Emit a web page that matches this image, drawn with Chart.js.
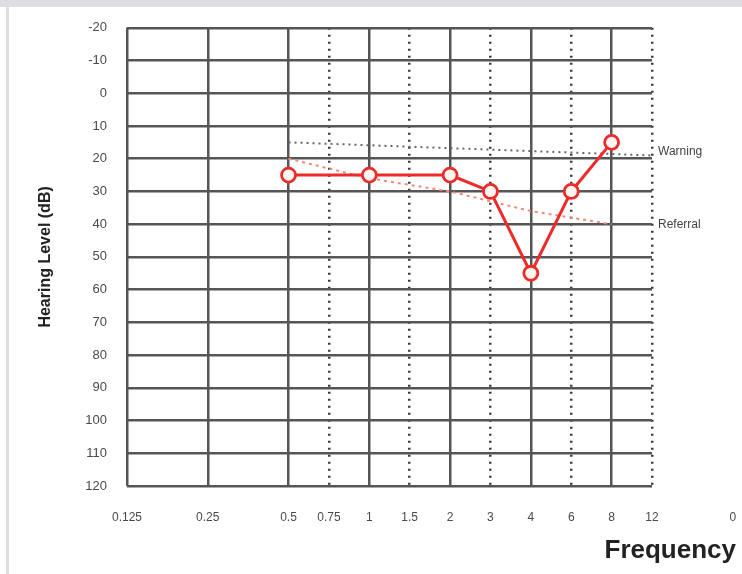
<!DOCTYPE html>
<html>
<head>
<meta charset="utf-8">
<script src="https://cdn.jsdelivr.net/npm/chart.js@4/dist/chart.umd.min.js"></script>
<style>
  body { margin: 0; background: #fff; }
  #frame {
    position: absolute; left: 0; top: 0; width: 742px; height: 574px;
    box-sizing: border-box; border-top: 7px solid #dedde3;
  }
  #frame:before {
    content: ""; position: absolute; left: 6px; top: 0; width: 3px; height: 567px; background: #dedde3;
  }
  #wrap { position: absolute; left: 0; top: 0; width: 742px; height: 574px; }
</style>
</head>
<body>
<div id="frame"></div>
<div id="wrap"><canvas id="graph" width="742" height="574"></canvas></div>
<script>
// frequency tick labels (kHz) and their slot on the chart (half-octave slots)
const freqLabels = ["0.125", "0.25", "0.5", "0.75", "1", "1.5", "2", "3", "4", "6", "8", "12"];
const freqSlots = [0, 2, 4, 5, 6, 7, 8, 9, 10, 11, 12, 13];
const dottedSlots = [5, 7, 9, 11, 13];
const extraLabel = "0"; // stray label past the right edge
const extraSlot = 15;

const levelTicks = [-20, -10, 0, 10, 20, 30, 40, 50, 60, 70, 80, 90, 100, 110, 120];

// measured thresholds
const hearingFreqs = [0.5, 1, 2, 3, 4, 6, 8];
const hearingLevels = [25, 25, 25, 30, 55, 30, 15];

// guide lines
const warningFreqs = [0.5, 12];
const warningLevels = [15, 19];
const referralFreqs = [0.5, 1, 2, 4, 8];
const referralLevels = [20, 26, 30, 36, 40];

const slotOf = (f) => freqSlots[freqLabels.indexOf(String(f))];
const toPoints = (fs, ls) => fs.map((f, i) => ({ x: slotOf(f), y: ls[i] }));

const textPlugin = {
  id: "extraText",
  afterDraw(chart) {
    const { ctx, scales } = chart;
    const xs = scales.x, ys = scales.y;
    ctx.save();
    // stray "0" tick label
    ctx.font = "12px Arial";
    ctx.fillStyle = "#4a4a4a";
    ctx.textAlign = "center";
    ctx.textBaseline = "middle";
    ctx.fillText(extraLabel, xs.getPixelForValue(extraSlot), xs.top + 32);
    // guide labels
    ctx.fillStyle = "#444";
    ctx.textAlign = "left";
    ctx.fillText("Warning", xs.right + 6, ys.getPixelForValue(17.8));
    ctx.fillText("Referral", xs.right + 6, ys.getPixelForValue(40.3));
    // x axis title
    ctx.font = "bold 26px Arial";
    ctx.fillStyle = "#222";
    ctx.textAlign = "right";
    ctx.fillText("Frequency", 736, 551);
    ctx.restore();
  },
};

new Chart(document.getElementById("graph"), {
  type: "line",
  data: {
    datasets: [
      {
        label: "Threshold",
        data: toPoints(hearingFreqs, hearingLevels),
        borderColor: "#ee2b2b",
        borderWidth: 3,
        pointRadius: 7,
        pointBorderWidth: 2.8,
        pointBorderColor: "#ee2b2b",
        pointBackgroundColor: "#fff6f2",
        tension: 0,
      },
      {
        label: "Warning",
        data: toPoints(warningFreqs, warningLevels),
        borderColor: "#666",
        borderWidth: 2,
        borderDash: [2, 4],
        pointRadius: 0,
      },
      {
        label: "Referral",
        data: toPoints(referralFreqs, referralLevels),
        borderColor: "#f08a7c",
        borderWidth: 2,
        borderDash: [3, 4],
        pointRadius: 0,
      },
    ],
  },
  options: {
    responsive: false,
    animation: false,
    layout: { padding: { left: 10, right: 90, top: 20, bottom: 48 } },
    plugins: { legend: { display: false }, tooltip: { enabled: false } },
    scales: {
      x: {
        type: "linear",
        min: 0,
        max: 13,
        afterBuildTicks: (axis) => {
          axis.ticks = freqSlots.map((v) => ({ value: v }));
        },
        afterFit: (axis) => { axis.height = 40; },
        ticks: {
          autoSkip: false,
          maxRotation: 0,
          padding: 24,
          color: "#4a4a4a",
          font: { family: "Arial", size: 12 },
          callback: (v) => freqLabels[freqSlots.indexOf(v)],
        },
        grid: {
          drawTicks: false,
          color: (c) => (dottedSlots.includes(c.tick && c.tick.value) ? "#3a3a3a" : "#555"),
          lineWidth: 2.5,
        },
        border: {
          display: false,
          dash: (c) => (c.tick && dottedSlots.includes(c.tick.value) ? [2, 5] : []),
        },
      },
      y: {
        type: "linear",
        reverse: true,
        min: -20,
        max: 120,
        afterBuildTicks: (axis) => {
          axis.ticks = levelTicks.map((v) => ({ value: v }));
        },
        afterFit: (axis) => { axis.width = 117; },
        ticks: {
          padding: 20,
          color: "#4a4a4a",
          font: { family: "Arial", size: 13 },
        },
        grid: { drawTicks: false, color: "#555", lineWidth: 2.5 },
        border: { display: false },
        title: {
          display: true,
          text: "Hearing Level (dB)",
          color: "#222",
          font: { family: "Arial", size: 16, weight: "bold" },
          padding: { top: 26, bottom: 0 },
        },
      },
    },
  },
  plugins: [textPlugin],
});
</script>
</body>
</html>
